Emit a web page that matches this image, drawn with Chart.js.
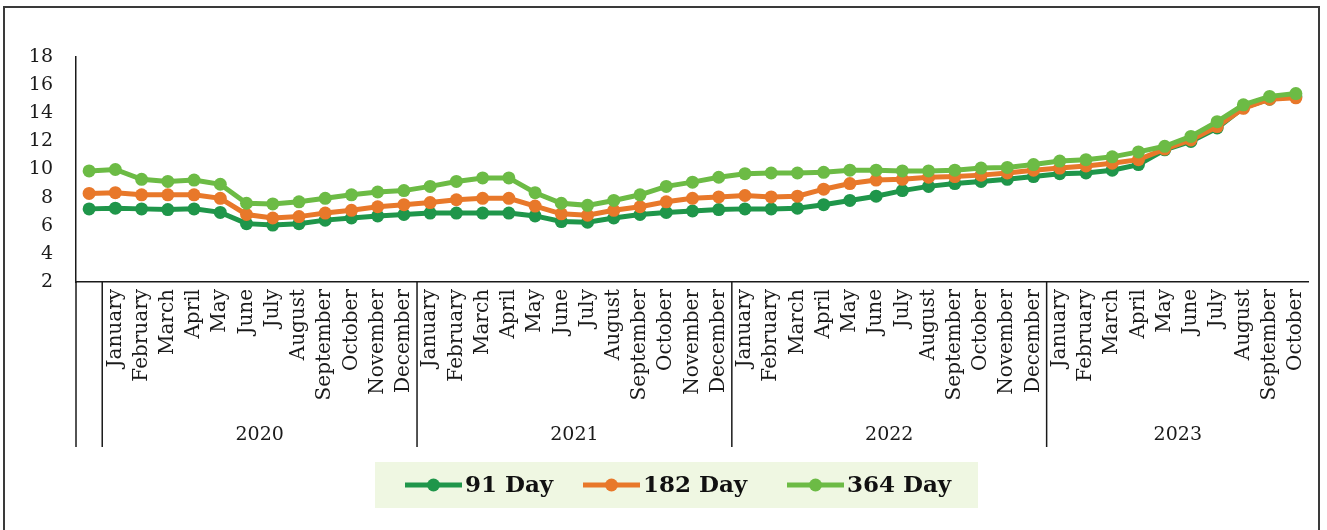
<!DOCTYPE html>
<html>
<head>
<meta charset="utf-8">
<title>Treasury bill rates</title>
<script src="https://cdn.jsdelivr.net/npm/chart.js@4.4.1/dist/chart.umd.min.js"></script>
<style>
  html, body { margin: 0; padding: 0; background: #ffffff; }
  #wrap { position: relative; width: 1327px; height: 530px; overflow: hidden; }
  #frame { position: absolute; left: 3px; top: 6px; width: 1317px; height: 540px;
           border: 2px solid #3a3a3a; box-sizing: border-box; pointer-events: none; }
  canvas { position: absolute; left: 0; top: 0; }
</style>
</head>
<body>
<div id="wrap">
  <canvas id="c" width="1327" height="530"></canvas>
  <div id="frame"></div>
</div>
<script>
// Month categories: a leading unlabeled slot, then Jan 2020 .. Oct 2023
const months = ['January','February','March','April','May','June','July',
                'August','September','October','November','December'];
const categories = [''].concat(months, months, months, months.slice(0, 10));

// Year groups shown under the month labels
const yearLabels = ['2020', '2021', '2022', '2023'];
const yearSpans = [12, 12, 12, 10];

// Y axis ticks
const yTickValues = [2, 4, 6, 8, 10, 12, 14, 16, 18];

// Series (%)
const day91 = [7.2, 7.25, 7.2, 7.15, 7.2, 6.95, 6.15, 6.05, 6.15, 6.4, 6.55, 6.7, 6.8,
               6.9, 6.9, 6.9, 6.9, 6.7, 6.3, 6.25, 6.55, 6.8, 6.95, 7.05, 7.15,
               7.2, 7.2, 7.25, 7.5, 7.8, 8.1, 8.5, 8.8, 9.0, 9.15, 9.3, 9.5,
               9.7, 9.75, 9.95, 10.35, 11.4, 12.0, 12.95, 14.4, 15.0, 15.2];
const day182 = [8.3, 8.35, 8.2, 8.2, 8.2, 7.95, 6.8, 6.55, 6.65, 6.9, 7.1, 7.35, 7.5,
                7.65, 7.85, 7.95, 7.95, 7.4, 6.85, 6.75, 7.1, 7.35, 7.7, 7.95, 8.05,
                8.15, 8.05, 8.1, 8.6, 9.0, 9.25, 9.3, 9.45, 9.5, 9.6, 9.75, 9.95,
                10.1, 10.25, 10.45, 10.7, 11.45, 12.1, 13.05, 14.35, 15.0, 15.1];
const day364 = [9.9, 10.0, 9.3, 9.15, 9.25, 8.95, 7.6, 7.55, 7.7, 7.95, 8.2, 8.4, 8.5,
                8.8, 9.15, 9.4, 9.4, 8.35, 7.6, 7.45, 7.8, 8.2, 8.8, 9.1, 9.45,
                9.7, 9.75, 9.75, 9.8, 9.95, 9.95, 9.9, 9.9, 9.95, 10.1, 10.15, 10.35,
                10.6, 10.7, 10.9, 11.25, 11.65, 12.35, 13.4, 14.6, 15.2, 15.4];

const seriesNames = ['91 Day', '182 Day', '364 Day'];
const seriesColors = ['#1f964a', '#e8782a', '#6cbb45'];

const SERIF = '"DejaVu Serif", "Liberation Serif", serif';

function lineDataset(label, data, color, order) {
  return {
    label, data, order,
    borderColor: color, backgroundColor: color,
    borderWidth: 5, pointRadius: 6.5, pointHoverRadius: 6.5,
    pointBorderWidth: 0, pointBackgroundColor: color,
    tension: 0, fill: false
  };
}

// Year group row: separators and centered year labels under the months
const yearAxisPlugin = {
  id: 'yearAxis',
  afterDraw(chart) {
    const xs = chart.scales.x;
    const ctx = chart.ctx;
    const step = xs.getPixelForValue(1) - xs.getPixelForValue(0);
    const top = xs.top, bottom = xs.bottom;
    ctx.save();
    ctx.strokeStyle = '#1a1a1a';
    ctx.lineWidth = 1.5;
    const vline = (x) => { ctx.beginPath(); ctx.moveTo(x, top); ctx.lineTo(x, bottom); ctx.stroke(); };
    vline(xs.left);
    ctx.fillStyle = '#1a1a1a';
    ctx.font = '19px ' + SERIF;
    ctx.textAlign = 'center';
    ctx.textBaseline = 'middle';
    let start = 1;
    yearLabels.forEach((yr, k) => {
      const end = start + yearSpans[k] - 1;
      const x0 = xs.getPixelForValue(start) - step / 2;
      const x1 = xs.getPixelForValue(end) + step / 2;
      vline(x0);
      ctx.fillText(yr, (x0 + x1) / 2, bottom - 12);
      start = end + 1;
    });
    ctx.restore();
  }
};

// Legend drawn as a shaded band with line-and-dot markers
const bandLegendPlugin = {
  id: 'bandLegend',
  afterDraw(chart) {
    const ctx = chart.ctx;
    const box = { x: 375, y: 462, w: 603, h: 46 };
    ctx.save();
    ctx.fillStyle = '#eff7e2';
    ctx.fillRect(box.x, box.y, box.w, box.h);
    const cy = box.y + box.h / 2;
    const markerStarts = [405, 583, 787];
    ctx.font = 'bold 23px ' + SERIF;
    ctx.textBaseline = 'middle';
    ctx.textAlign = 'left';
    chart.data.datasets.forEach((ds, i) => {
      const mx = markerStarts[i];
      ctx.strokeStyle = ds.borderColor;
      ctx.lineWidth = 5;
      ctx.beginPath(); ctx.moveTo(mx, cy); ctx.lineTo(mx + 57, cy); ctx.stroke();
      ctx.fillStyle = ds.borderColor;
      ctx.beginPath(); ctx.arc(mx + 28.5, cy, 6.5, 0, Math.PI * 2); ctx.fill();
      ctx.fillStyle = '#111111';
      ctx.fillText(ds.label, mx + 60, cy + 1);
    });
    ctx.restore();
  }
};

new Chart(document.getElementById('c'), {
  type: 'line',
  data: {
    labels: categories,
    datasets: [
      lineDataset(seriesNames[0], day91, seriesColors[0], 3),
      lineDataset(seriesNames[1], day182, seriesColors[1], 2),
      lineDataset(seriesNames[2], day364, seriesColors[2], 1)
    ]
  },
  options: {
    responsive: false,
    animation: false,
    events: [],
    layout: { padding: { left: 0, right: 14, top: 57, bottom: 83 } },
    plugins: {
      legend: { display: false },
      tooltip: { enabled: false }
    },
    scales: {
      x: {
        type: 'category',
        offset: true,
        grid: { display: false, drawTicks: false },
        border: { display: true, color: '#1a1a1a', width: 1.5 },
        ticks: {
          autoSkip: false, minRotation: 90, maxRotation: 90,
          padding: 7, color: '#1a1a1a',
          font: { family: SERIF, size: 20 }
        },
        afterFit(scale) { scale.height = 165; }
      },
      y: {
        min: 2, max: 18,
        grid: { display: false, drawTicks: false },
        border: { display: true, color: '#1a1a1a', width: 1.5 },
        afterBuildTicks(scale) { scale.ticks = yTickValues.map(v => ({ value: v })); },
        ticks: {
          padding: 23, color: '#1a1a1a',
          font: { family: SERIF, size: 19 }
        },
        afterFit(scale) { scale.width = 76; }
      }
    }
  },
  plugins: [yearAxisPlugin, bandLegendPlugin]
});
</script>
</body>
</html>
